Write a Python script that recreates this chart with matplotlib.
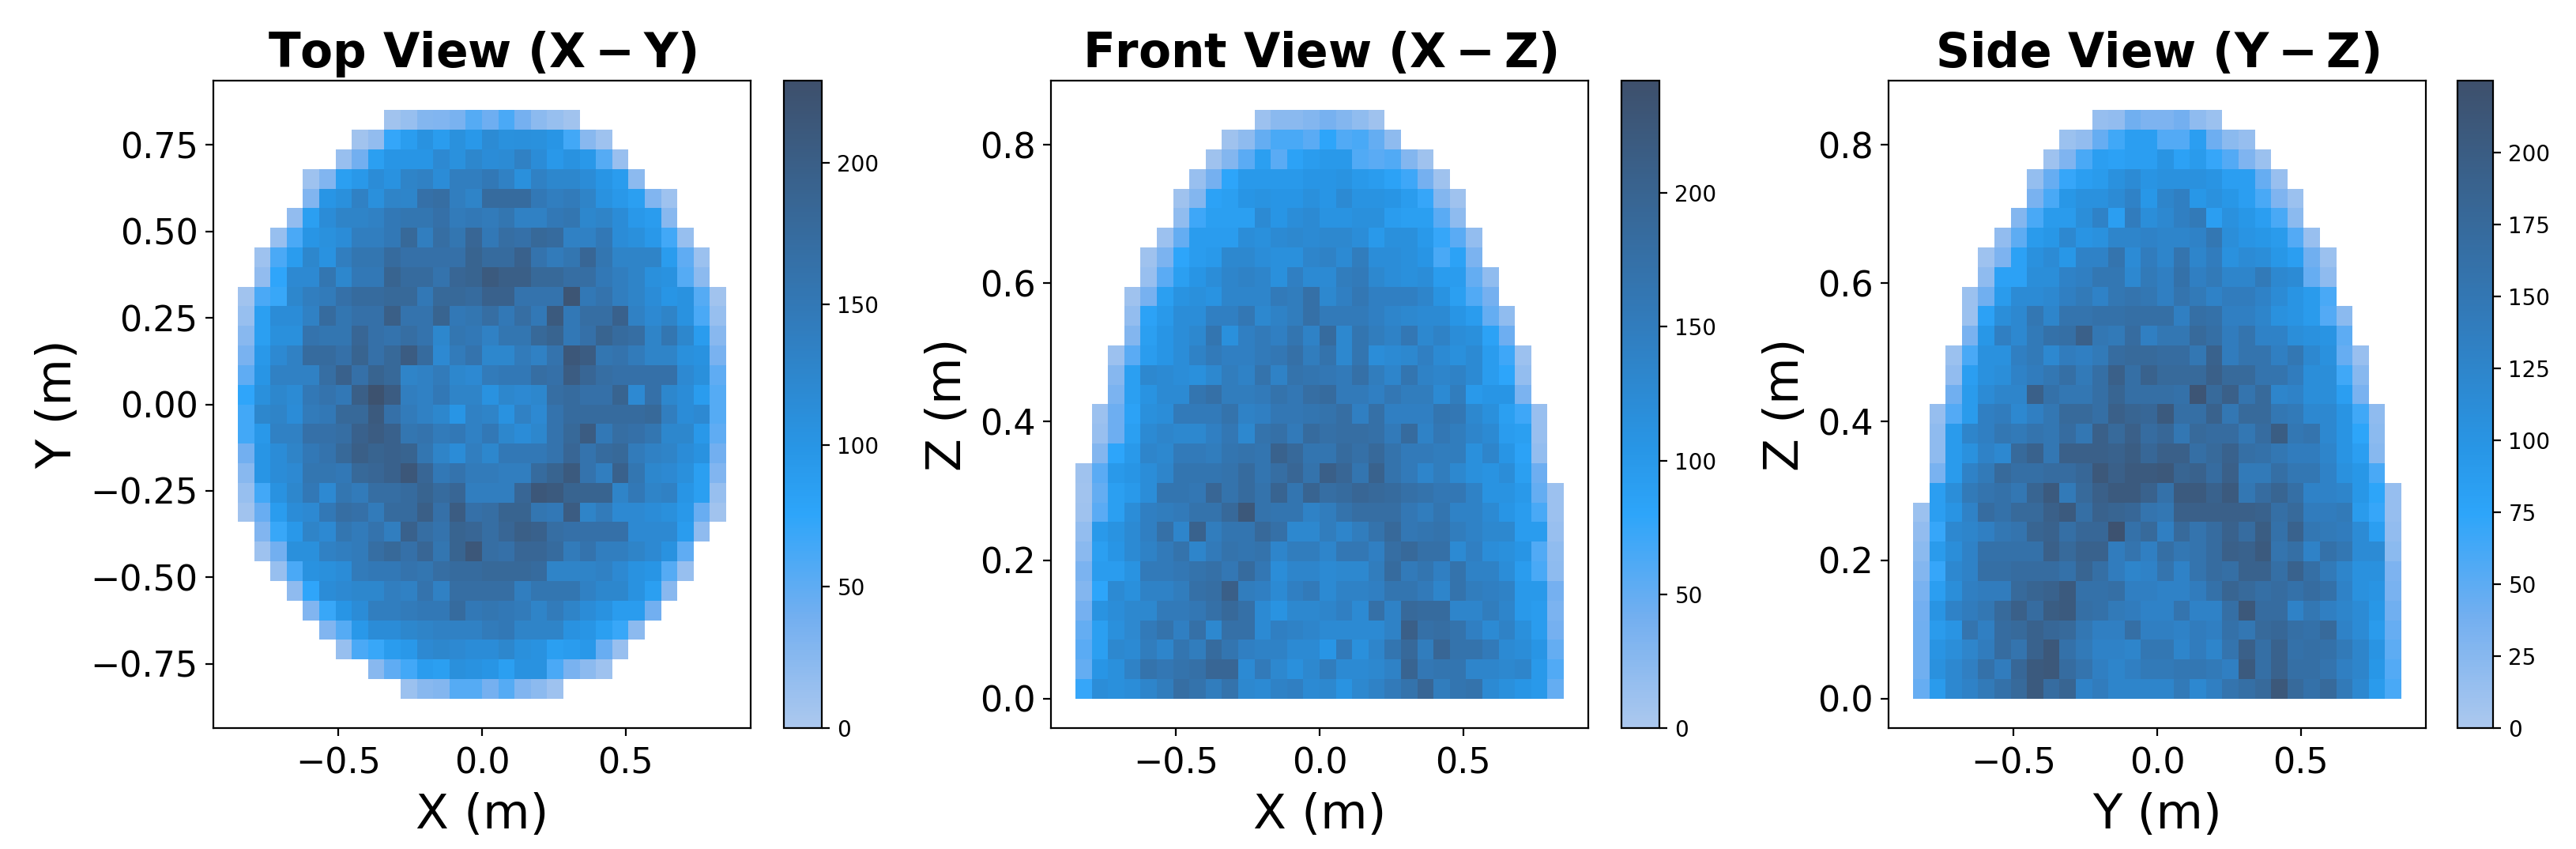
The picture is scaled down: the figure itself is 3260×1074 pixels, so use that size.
import numpy as np
import matplotlib
matplotlib.use("Agg")
import matplotlib.pyplot as plt
from matplotlib.colors import LinearSegmentedColormap

# Each view: first occupied column per row (top row first) and the bin counts of that row
top_starts = [9,7,6,4,4,3,2,1,1,0,0,0,0,0,0,0,0,0,0,0,0,1,1,2,3,4,5,6,8,10]
top_counts = [
[8,15,28,30,35,55,42,60,38,22,15,8],
[8,18,72,88,105,90,108,95,118,108,110,108,100,65,25,10],
[14,40,85,100,100,100,120,108,125,115,118,135,115,95,105,95,55,14],
[10,30,85,95,115,105,130,135,115,140,140,150,135,110,135,125,125,115,100,90,22],
[30,100,110,135,110,130,128,165,170,140,130,175,175,175,150,140,145,130,105,95,85,30,10],
[18,85,115,130,130,135,150,155,155,165,145,150,145,155,135,135,150,155,125,130,115,95,90,25],
[15,60,100,108,115,140,140,150,180,140,170,155,185,150,170,165,180,175,135,135,150,115,110,95,65,15],
[10,60,90,125,105,140,155,155,175,165,165,165,165,190,175,175,195,160,145,155,185,155,130,130,130,90,50,12],
[18,75,120,120,155,125,150,150,190,175,175,160,185,190,210,200,200,180,180,170,170,150,140,130,110,105,55,22],
[8,60,70,125,140,145,165,175,175,180,180,150,180,180,175,195,195,160,160,160,220,150,160,140,130,115,100,105,55,8],
[15,85,115,115,135,175,155,165,165,200,160,160,190,150,155,170,150,170,150,210,150,170,170,195,135,120,130,105,60,15],
[25,85,110,110,160,155,155,185,165,160,170,160,125,155,150,135,155,155,180,190,150,165,190,175,170,130,155,125,90,25],
[35,95,120,135,175,175,165,190,165,180,205,175,120,145,160,125,125,145,135,160,215,205,155,160,145,130,130,110,105,35],
[50,100,135,135,135,170,195,165,190,180,130,135,145,125,120,145,150,150,170,165,205,185,170,165,165,165,165,120,110,50],
[75,110,125,118,150,160,150,200,225,205,140,135,150,130,130,105,125,120,125,170,175,165,165,190,120,165,125,115,90,55],
[65,125,130,115,145,150,180,180,210,165,145,135,125,100,135,130,105,135,120,160,175,175,175,175,175,180,140,115,120,55],
[65,95,135,135,165,165,170,195,205,195,155,160,145,150,135,150,125,115,125,160,180,205,150,170,165,155,125,125,95,50],
[40,100,115,130,150,160,180,200,190,195,190,155,130,115,140,125,150,150,150,160,185,160,175,180,145,135,130,115,105,40],
[25,100,115,120,155,155,150,180,185,195,215,185,150,160,145,145,140,140,175,190,210,160,140,195,155,125,120,110,85,30],
[15,65,105,125,150,120,155,145,170,170,175,190,175,185,140,140,140,185,215,210,190,190,190,130,150,130,135,100,85,15],
[8,45,90,115,120,150,170,165,145,175,175,200,165,205,165,170,190,190,155,150,205,130,145,120,120,115,110,95,45,8],
[30,70,95,130,120,155,145,160,140,195,170,160,190,185,170,185,200,195,170,165,165,165,165,120,120,120,90,20],
[10,40,110,110,135,140,145,170,180,165,185,155,190,215,170,165,185,185,175,145,160,140,140,130,120,105,50],
[15,60,105,110,115,145,150,150,160,155,170,175,175,180,180,180,175,130,130,130,135,120,105,100,55,15],
[20,75,115,120,125,125,140,135,160,135,170,170,170,170,140,155,155,155,135,125,125,105,85,25],
[30,70,100,115,140,140,145,150,150,175,150,155,150,145,130,145,130,115,105,90,90,40],
[30,55,95,115,115,125,130,135,135,135,145,150,130,130,130,105,100,85,70,22],
[15,60,70,90,95,120,125,120,115,115,125,110,105,85,90,95,45,14],
[25,50,65,90,85,110,105,100,85,105,105,60,35,22,10],
[12,25,28,55,55,38,55,30,22,10],
]

front_starts = [11,9,8,7,6,6,5,4,4,3,3,3,2,2,2,1,1,1,0,0,0,0,0,0,0,0,0,0,0,0]
front_counts = [
[12,25,25,30,38,30,20,10],
[10,22,50,65,65,55,80,60,65,50,22],
[10,30,55,90,55,85,95,100,100,60,55,60,30,10],
[15,40,80,100,100,100,100,105,105,110,100,95,85,70,40,10],
[10,30,85,90,105,110,105,105,115,105,125,110,110,105,95,75,30,10],
[20,70,90,90,90,125,105,120,125,110,110,115,115,95,90,90,55,22],
[12,50,95,95,95,120,115,125,130,125,130,130,120,100,115,115,100,75,55,18],
[10,35,80,95,100,130,130,120,115,115,135,140,125,150,120,120,115,105,65,85,35],
[15,55,90,105,120,135,140,135,115,145,125,125,150,155,130,120,115,120,95,95,50,20],
[10,38,90,110,115,110,135,135,135,155,150,175,130,145,160,145,145,145,135,110,90,60,40],
[18,85,100,120,120,145,145,160,130,140,150,175,155,155,155,145,135,130,125,125,105,95,50,20],
[30,90,105,120,130,165,115,145,155,145,165,140,185,130,165,150,140,160,130,140,120,115,85,45],
[12,55,95,105,120,140,155,145,145,155,160,175,150,170,130,165,120,125,130,145,125,115,125,95,70,12],
[28,90,130,125,120,115,130,150,140,170,140,170,165,160,155,175,150,135,165,140,135,140,125,95,80,18],
[35,90,110,125,125,165,175,150,150,155,170,160,180,185,155,155,145,160,150,150,125,150,100,105,105,35],
[12,45,85,115,120,155,155,155,170,140,145,160,160,165,170,180,145,175,145,145,145,165,160,130,115,90,70,15],
[15,45,90,125,135,130,130,145,160,130,170,175,155,185,175,180,180,175,155,185,140,160,150,135,125,95,90,15],
[30,80,100,135,130,155,155,150,165,170,165,205,190,165,165,185,175,190,170,155,155,150,150,115,135,105,85,18],
[10,55,100,105,120,135,165,165,165,170,185,165,180,195,170,210,195,165,205,170,155,135,150,130,115,110,120,90,45],
[8,50,90,100,120,165,165,160,195,170,185,170,200,165,200,180,185,195,190,185,175,170,160,160,140,110,110,100,50,12],
[10,55,90,120,145,150,155,170,170,190,225,170,165,165,140,150,170,180,180,180,160,150,165,140,140,125,105,95,65,12],
[18,100,110,125,145,175,135,205,150,165,165,190,175,130,130,150,135,150,170,190,160,165,170,150,140,130,130,95,95,15],
[25,90,105,125,140,155,170,135,155,170,165,170,135,150,150,135,160,160,145,180,190,175,175,125,145,120,115,105,60,20],
[35,95,95,110,155,155,160,170,175,160,185,160,120,135,135,125,130,130,150,185,155,165,145,170,140,140,120,95,65,22],
[30,80,125,115,140,140,150,175,180,210,150,145,125,145,155,125,140,140,145,165,165,155,135,170,150,145,140,100,100,40],
[40,110,120,130,130,155,155,160,175,190,175,125,110,130,130,135,145,125,175,140,190,185,185,135,135,150,135,100,95,35],
[50,90,115,130,155,170,145,175,130,175,175,125,145,140,135,125,125,125,125,140,210,175,180,170,145,125,140,115,95,40],
[55,90,130,125,150,135,165,150,185,165,145,140,140,125,125,105,155,115,135,165,190,150,195,170,170,155,125,120,105,50],
[50,105,115,140,170,160,170,175,195,195,125,155,130,115,130,150,125,125,130,140,200,160,165,165,135,135,130,135,100,60],
[75,120,115,120,135,150,180,170,150,170,130,125,140,145,125,130,110,130,140,155,170,195,150,165,170,125,115,105,100,50],
]

side_starts = [11,9,8,7,7,6,5,4,4,3,3,3,2,2,2,1,1,1,1,1,0,0,0,0,0,0,0,0,0,0]
side_counts = [
[15,18,40,32,32,38,20,12],
[12,18,45,65,85,85,55,55,85,42,22,15],
[10,30,60,85,80,85,85,100,80,90,70,55,30,12],
[16,45,70,85,90,105,115,100,105,105,105,100,85,85,45,14],
[35,60,95,105,105,115,130,95,125,135,95,105,95,85,60,30,12],
[28,60,90,90,110,130,85,140,110,120,135,145,85,105,95,85,60,22],
[18,50,90,95,120,100,105,125,125,130,125,125,130,150,110,100,95,90,55,14],
[10,32,80,105,115,95,130,130,155,115,140,125,155,125,140,105,115,110,95,85,40,12],
[20,80,80,110,110,130,135,150,150,120,145,135,160,135,145,125,125,145,120,115,45,20],
[12,40,90,115,115,120,135,145,130,150,155,150,135,155,145,130,140,140,130,115,100,90,60],
[12,80,110,120,150,125,155,155,160,160,165,165,165,135,165,160,135,135,125,105,100,90,55,22],
[35,95,135,120,145,160,165,195,150,145,170,135,150,150,175,165,140,155,130,130,110,105,100,50],
[12,60,105,105,135,145,120,140,135,145,170,175,175,170,170,150,190,140,155,155,135,150,120,105,45,14],
[18,85,105,110,130,140,150,165,145,165,195,165,190,175,175,175,195,175,175,155,155,140,110,110,65,25],
[40,90,115,125,125,195,160,150,150,165,185,165,165,165,160,215,175,195,155,175,125,130,110,110,85,35],
[15,55,90,135,140,120,135,150,175,175,165,195,185,180,205,165,165,190,150,175,175,150,145,120,120,100,65,20],
[20,90,125,135,150,145,155,150,170,150,195,175,195,170,180,150,175,170,170,150,170,200,150,155,120,100,75,22],
[20,90,105,130,120,175,190,150,195,195,195,190,200,180,195,195,165,175,190,165,160,150,140,140,125,100,85,25],
[35,90,130,145,175,165,165,170,170,180,210,195,205,205,210,185,190,170,195,145,145,165,150,150,130,105,95,60],
[85,110,145,155,160,150,185,205,145,175,195,205,205,190,160,205,205,190,205,150,170,185,165,130,130,125,95,75,15],
[12,85,100,130,170,160,175,175,195,205,165,190,185,180,155,150,195,195,195,195,195,190,165,175,140,140,145,90,70,15],
[18,70,120,125,135,150,155,185,190,165,180,180,220,160,175,135,175,155,170,190,170,200,160,190,150,145,140,115,85,18],
[22,90,110,130,160,160,160,160,195,175,190,190,140,155,135,165,150,155,170,195,190,205,155,165,130,160,150,115,115,22],
[28,70,120,130,165,165,170,170,170,160,185,165,140,125,130,155,130,155,170,165,190,190,165,190,165,145,125,105,105,32],
[35,85,110,135,140,140,175,185,190,205,160,160,165,135,135,130,130,140,160,185,175,165,170,160,170,160,130,105,100,35],
[38,100,130,140,150,175,195,170,200,205,165,160,145,140,130,130,155,130,130,165,210,170,170,130,150,135,125,115,95,40],
[40,90,100,155,135,170,175,190,180,175,150,135,135,165,135,135,130,140,135,160,150,175,180,165,160,175,130,115,90,45],
[40,100,110,125,140,170,155,190,210,160,145,130,130,125,150,150,125,140,125,155,195,165,190,160,165,160,145,125,100,50],
[40,105,120,135,160,140,180,205,210,170,155,135,125,135,145,145,150,150,145,135,205,165,190,165,165,155,135,125,95,55],
[45,90,120,130,145,160,175,205,170,185,130,140,125,125,125,125,145,120,135,155,165,175,210,175,160,175,145,120,90,60],
]

titles = [r"Top View ($\mathbf{X-Y}$)", r"Front View ($\mathbf{X-Z}$)", r"Side View ($\mathbf{Y-Z}$)"]
xlabels = ["X (m)", "X (m)", "Y (m)"]
ylabels = ["Y (m)", "Z (m)", "Z (m)"]
count_max = [229, 242, 225]
cbar_ticks = [[0, 50, 100, 150, 200], [0, 50, 100, 150, 200],
              [0, 25, 50, 75, 100, 125, 150, 175, 200]]
y_ranges = [(-0.85, 0.85), (0.0, 0.85), (0.0, 0.85)]
y_ticks = [[-0.75, -0.5, -0.25, 0, 0.25, 0.5, 0.75], [0, 0.2, 0.4, 0.6, 0.8], [0, 0.2, 0.4, 0.6, 0.8]]
y_fmt = ["{:.2f}", "{:.1f}", "{:.1f}"]

W, H = 3260, 1074
axes_px = [(270, 950), (1330, 2010), (2390, 3070)]
cbar_px = [(992, 1040), (2052, 2100), (3110, 3155)]
top_px, bottom_px = 102, 921

cmap = LinearSegmentedColormap.from_list("view", [
    (0.0, (172/255, 200/255, 238/255)),
    (0.17, (115/255, 175/255, 240/255)),
    (0.33, (45/255, 165/255, 250/255)),
    (0.43, (40/255, 150/255, 230/255)),
    (0.64, (50/255, 122/255, 185/255)),
    (1.0, (62/255, 80/255, 108/255)),
])

fig = plt.figure(figsize=(W/200, H/200), dpi=200)

def grid(starts, rows):
    g = np.full((30, 30), np.nan)
    for i, (s, r) in enumerate(zip(starts, rows)):
        r = r[:30 - s]
        g[i, s:s + len(r)] = r
    return np.ma.masked_invalid(g[::-1])

views = [(top_starts, top_counts), (front_starts, front_counts), (side_starts, side_counts)]
for k, (starts, rows) in enumerate(views):
    x0, x1 = axes_px[k]
    ax = fig.add_axes([x0/W, 1 - bottom_px/H, (x1-x0)/W, (bottom_px-top_px)/H])
    xe = np.linspace(-0.85, 0.85, 31)
    ye = np.linspace(*y_ranges[k], 31)
    m = ax.pcolormesh(xe, ye, grid(starts, rows), cmap=cmap, vmin=0, vmax=count_max[k],
                      edgecolors="none", antialiased=False)
    span = y_ranges[k][1] - y_ranges[k][0]
    ax.set_xlim(-0.935, 0.935)
    ax.set_ylim(y_ranges[k][0] - 0.05*span, y_ranges[k][1] + 0.05*span)
    ax.set_xticks([-0.5, 0, 0.5])
    ax.set_xticklabels(["\u22120.5", "0.0", "0.5"])
    ax.set_yticks(y_ticks[k])
    ax.set_yticklabels([y_fmt[k].format(v).replace("-", "\u2212") for v in y_ticks[k]])
    ax.tick_params(labelsize=16)
    ax.tick_params(axis="x", pad=5)
    ax.set_xlabel(xlabels[k], fontsize=22, labelpad=5)
    ax.set_ylabel(ylabels[k], fontsize=22)
    ax.set_title(titles[k], fontsize=21.5, fontweight="bold")
    c0, c1 = cbar_px[k]
    cax = fig.add_axes([c0/W, 1 - bottom_px/H, (c1-c0)/W, (bottom_px-top_px)/H])
    cb = fig.colorbar(m, cax=cax)
    cb.set_ticks(cbar_ticks[k])
    cb.ax.tick_params(labelsize=10)

fig.savefig("out.png", dpi=200)
